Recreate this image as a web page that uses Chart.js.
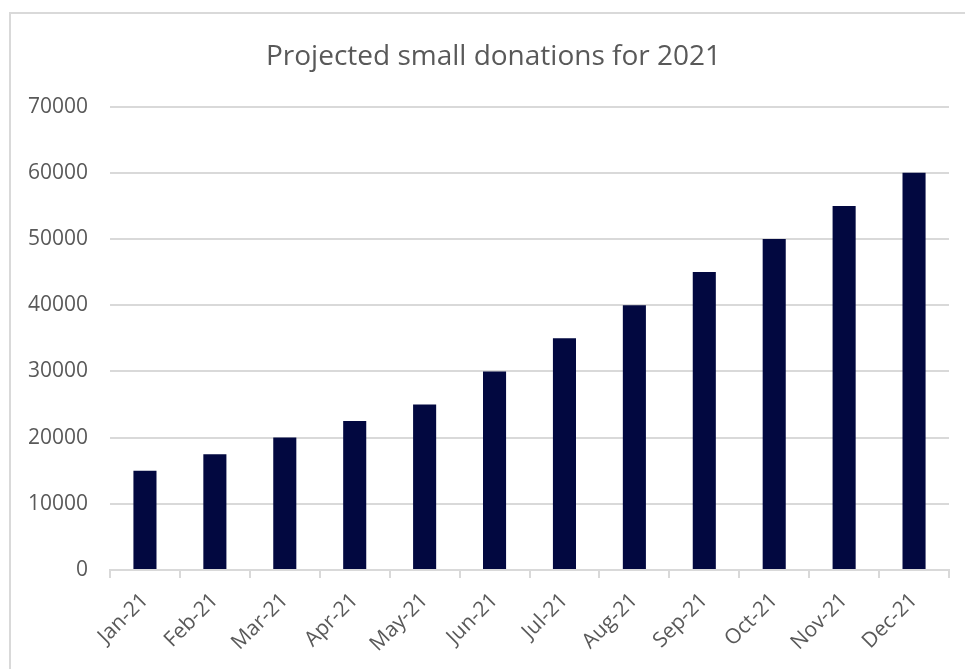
<!DOCTYPE html>
<html>
<head>
<meta charset="utf-8">
<script src="https://cdn.jsdelivr.net/npm/chart.js@4"></script>
<style>
  html, body { margin: 0; padding: 0; background: #fff; overflow: hidden; }
  #wrap { position: relative; width: 965px; height: 669px; }
  #frame {
    position: absolute; left: 9px; top: 12px; width: 1000px; height: 700px;
    border: 2px solid #d9d9d9; box-sizing: border-box; pointer-events: none;
  }
</style>
</head>
<body>
<div id="wrap">
  <canvas id="donationsChart" width="965" height="669"></canvas>
  <div id="frame"></div>
</div>
<script>
const months = ["Jan-21", "Feb-21", "Mar-21", "Apr-21", "May-21", "Jun-21",
  "Jul-21", "Aug-21", "Sep-21", "Oct-21", "Nov-21", "Dec-21"];
const donations = [15000, 17500, 20000, 22500, 25000, 30000,
  35000, 40000, 45000, 50000, 55000, 60000];
const yMax = 70000;
const yStep = 10000;

const textColor = "#595959";
const gridColor = "#d9d9d9";

// shift the title box so it is centred on the frame, not on the canvas
const titleShift = {
  id: "titleShift",
  afterLayout(chart) {
    if (chart.titleBlock) chart.titleBlock.left = 38;
  },
};

const ctx = document.getElementById("donationsChart").getContext("2d");

new Chart(ctx, {
  type: "bar",
  data: {
    labels: months,
    datasets: [
      {
        label: "Donations",
        data: donations,
        backgroundColor: "#020840",
        borderWidth: 0,
        categoryPercentage: 1,
        barPercentage: 0.33,
      },
    ],
  },
  options: {
    responsive: false,
    animation: false,
    layout: { padding: { left: 0, right: 16, top: 0, bottom: 0 } },
    plugins: {
      legend: { display: false },
      tooltip: { enabled: false },
      title: {
        display: true,
        text: "Projected small donations for 2021",
        color: textColor,
        font: { family: "Open Sans", size: 28, weight: "normal" },
        padding: { top: 40, bottom: 33 },
      },
    },
    scales: {
      x: {
        grid: {
          offset: true,
          drawOnChartArea: false,
          drawTicks: true,
          tickLength: 8,
          color: gridColor,
          lineWidth: 2,
        },
        border: { color: gridColor, width: 2 },
        ticks: {
          color: textColor,
          font: { family: "Open Sans", size: 21 },
          minRotation: 45,
          maxRotation: 45,
          padding: 10,
        },
        afterFit: (scale) => { scale.height = 99; },
      },
      y: {
        min: 0,
        max: yMax,
        grid: { color: gridColor, lineWidth: 2, drawTicks: false },
        border: { display: false },
        ticks: {
          stepSize: yStep,
          color: textColor,
          font: { family: "Open Sans", size: 21 },
          padding: 22,
          callback: (value) => String(value),
        },
        afterFit: (scale) => { scale.width = 110; },
      },
    },
  },
  plugins: [titleShift],
});
</script>
</body>
</html>
